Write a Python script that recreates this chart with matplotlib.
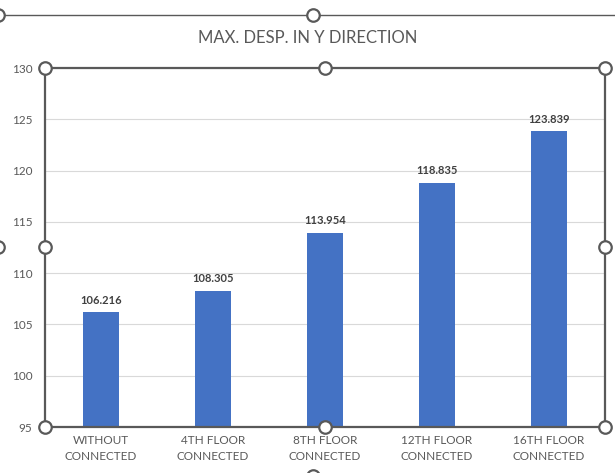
import numpy as np
import matplotlib.pyplot as plt
from matplotlib.lines import Line2D

plt.rcParams['font.family'] = ['Lato', 'DejaVu Sans']

categories = ['WITHOUT\nCONNECTED', '4TH FLOOR\nCONNECTED', '8TH FLOOR\nCONNECTED',
              '12TH FLOOR\nCONNECTED', '16TH FLOOR\nCONNECTED']
values = [106.216, 108.305, 113.954, 118.835, 123.839]

W, H = 615, 473
fig = plt.figure(figsize=(W / 100, H / 100), dpi=100)
ax = fig.add_axes([45 / W, (H - 427) / H, 560 / W, 359 / H])

x = np.arange(len(categories))
ax.bar(x, values, width=0.32, color='#4472C4', zorder=3)
for xi, v in zip(x, values):
    ax.text(xi, v + 0.6, f'{v:.3f}', ha='center', va='bottom', fontsize=8,
            fontweight='bold', color='#404040')

ax.set_xlim(-0.5, len(categories) - 0.5)
ax.set_ylim(95, 130)
ax.set_yticks(np.arange(95, 131, 5))
ax.set_xticks(x)
ax.set_xticklabels(categories, fontsize=8.5, color='#595959', linespacing=1.55)
ax.tick_params(axis='y', labelsize=8.5, colors='#595959', length=0, pad=9)
ax.tick_params(axis='x', length=0, pad=6)
ax.grid(axis='y', color='#D9D9D9', linewidth=0.8, zorder=0)
for s in ax.spines.values():
    s.set_color('#595959')
    s.set_linewidth(1.6)
    s.set_zorder(4)

fig.text(0.5, 1 - 38 / H, 'MAX. DESP. IN Y DIRECTION', ha='center', va='center',
         fontsize=12, color='#595959')

# selection frame of the chart and its handles
def px(xp, yp):
    return xp / W, 1 - yp / H

fig.add_artist(Line2D([0, 1], [1 - 15 / H, 1 - 15 / H], transform=fig.transFigure,
                      color='#595959', linewidth=1.0))
handle = dict(marker='o', markersize=9, markerfacecolor='white',
              markeredgecolor='#595959', markeredgewidth=1.6, linestyle='none',
              transform=fig.transFigure, clip_on=False, zorder=10)
for hx, hy in [(45, 68), (325, 68), (605, 68), (45, 247), (605, 247),
               (45, 427), (325, 427), (605, 427),
               (-2, 15), (313, 15), (-2, 247), (313, 476)]:
    fx, fy = px(hx, hy)
    fig.add_artist(Line2D([fx], [fy], **handle))

fig.savefig('out.png', dpi=100, facecolor='white')
